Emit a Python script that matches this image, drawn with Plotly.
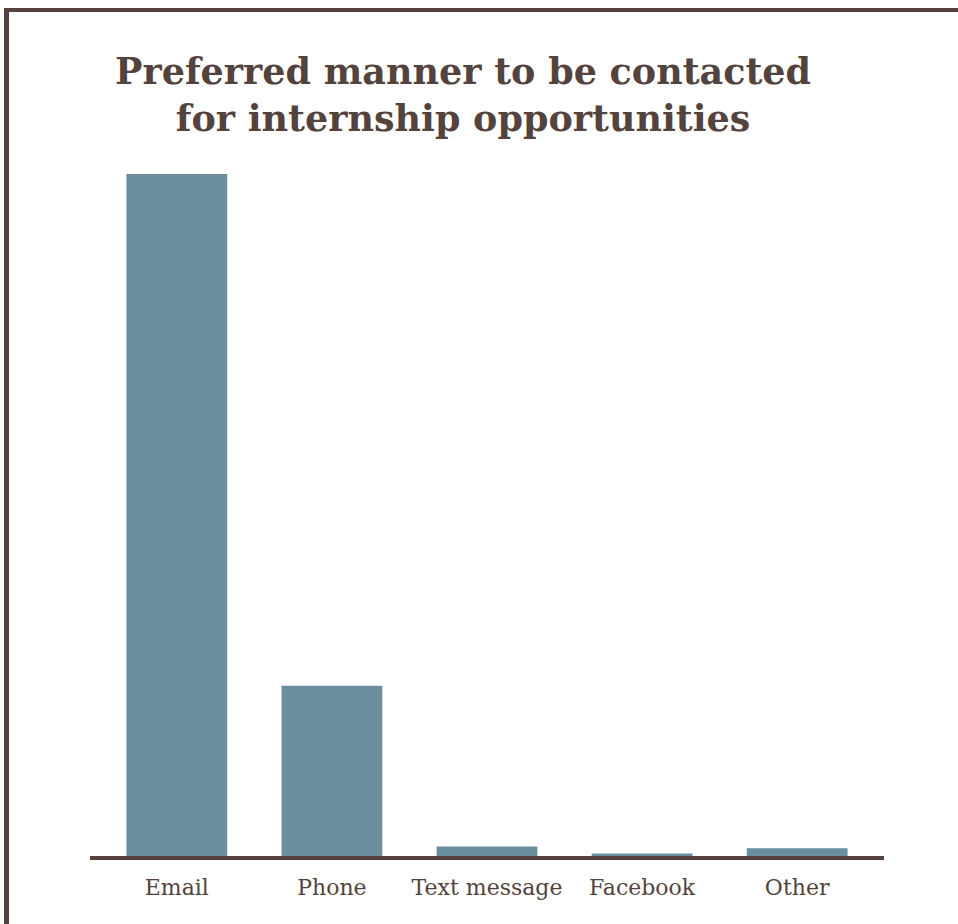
import plotly.graph_objects as go

categories = ["Email", "Phone", "Text message", "Facebook", "Other"]
values = [78.1, 19.5, 1.1, 0.3, 0.9]

BROWN = "#54433d"
BAR = "#6a8e9e"

W, H = 958, 924
L, R, T, B = 90, 74, 150, 68
pw, ph = W - L - R, H - T - B

def px_x(px):
    return (px - L) / pw

def px_y(py):
    return (H - B - py) / ph

fig = go.Figure(go.Bar(x=categories, y=values, marker_color=BAR, marker_line_width=0))

fig.update_layout(
    width=W, height=H,
    margin=dict(l=L, r=R, t=T, b=B),
    paper_bgcolor="white", plot_bgcolor="white",
    bargap=0.35,
    showlegend=False,
    xaxis=dict(
        range=[-0.56, 4.56],
        showline=True, linecolor=BROWN, linewidth=4,
        showgrid=False, zeroline=False,
        ticks="outside", ticklen=9, tickcolor="rgba(0,0,0,0)",
        tickfont=dict(family="DejaVu Serif", size=22, color=BROWN),
    ),
    yaxis=dict(range=[0, 80.85], visible=False, showgrid=False, zeroline=False),
    shapes=[
        dict(type="line", xref="paper", yref="paper",
             x0=px_x(4), x1=px_x(960), y0=px_y(10), y1=px_y(10),
             line=dict(color=BROWN, width=4)),
        dict(type="line", xref="paper", yref="paper",
             x0=px_x(6.5), x1=px_x(6.5), y0=px_y(8), y1=px_y(930),
             line=dict(color=BROWN, width=5)),
    ],
    annotations=[
        dict(text="<b>Preferred manner to be contacted<br>for internship opportunities</b>",
             xref="paper", yref="paper", x=px_x(463), y=px_y(95),
             xanchor="center", yanchor="middle", showarrow=False,
             font=dict(family="DejaVu Serif", size=36.5, color=BROWN),
             align="center"),
    ],
)

fig.write_html("out.html", config={"displayModeBar": False},
               post_script="document.body.style.margin='0';")
